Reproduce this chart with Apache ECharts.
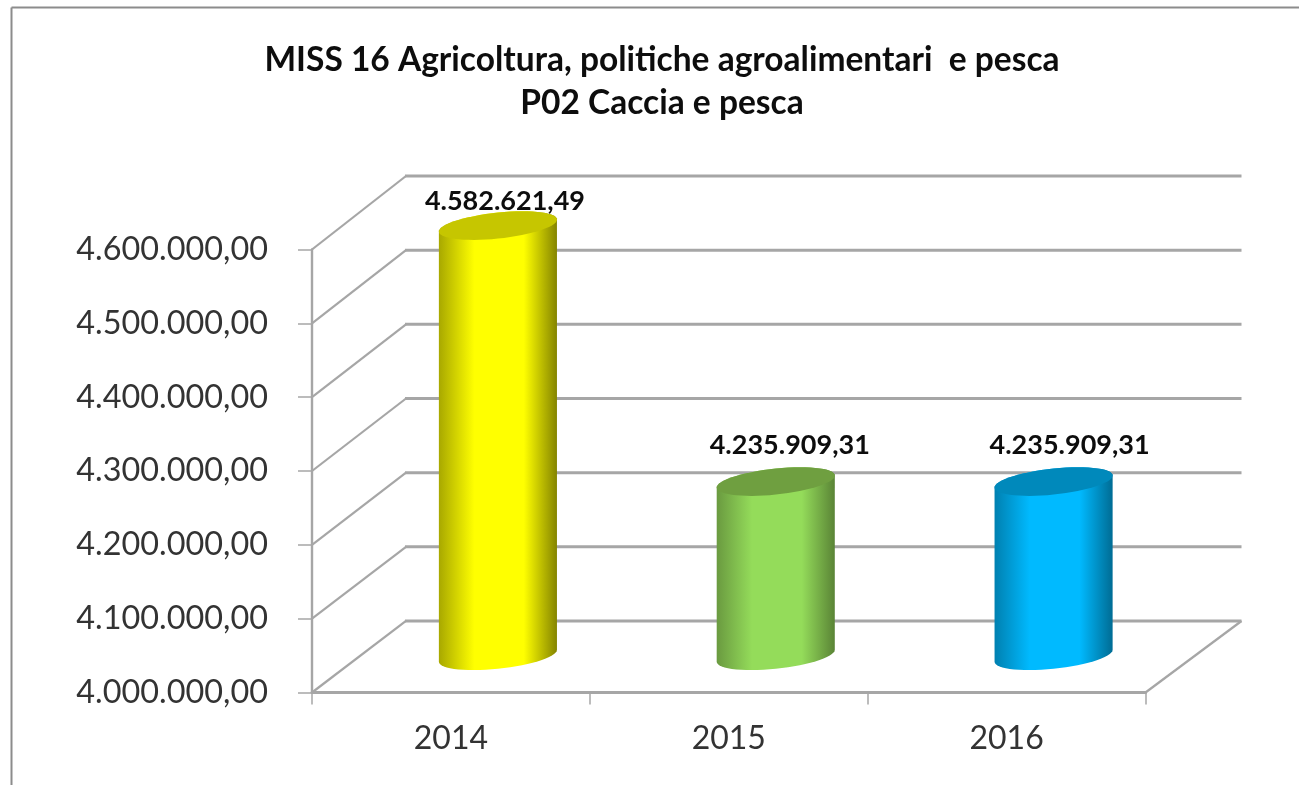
<!DOCTYPE html>
<html><head><meta charset="utf-8">
<style>html,body{margin:0;padding:0;background:#fff}#c{width:1299px;height:785px}</style>
<script src="https://cdn.jsdelivr.net/npm/echarts@6/dist/echarts.min.js"></script>
</head><body><div id="c"></div>
<script>
const titleLines = ['MISS 16 Agricoltura, politiche agroalimentari  e pesca', 'P02 Caccia e pesca'];
const years = ['2014', '2015', '2016'];
const values = [4582621.49, 4235909.31, 4235909.31];
const axisTicks = [4000000, 4100000, 4200000, 4300000, 4400000, 4500000, 4600000];
const bodyBright = ['#ffff00', '#94dc5a', '#00baff'];
const bodyLeft = ['#a8a800', '#6a9a40', '#0080b0'];
const bodyRight = ['#848400', '#5a8436', '#006c94'];
const capColors = ['#c6c600', '#6f9f40', '#0089bb'];
const labelShift = [[7, -24], [14, -36], [16, -36]];

const FONT = 'Lato';
const GRID = '#a6a6a6';
const DEPTH_X = 94, DEPTH_Y = -73.5, WALL_STRETCH = 1.0045, WALL_EXTRA = 2;
const fmt = v => v.toLocaleString('de-DE', {minimumFractionDigits: 2, maximumFractionDigits: 2});

function ellipse(cx, cy, a, b, s, from, to, n) {
  const pts = [];
  for (let i = 0; i <= n; i++) {
    const t = from + (to - from) * i / n;
    pts.push([cx + a * Math.cos(t), cy + b * Math.sin(t) - s * Math.cos(t)]);
  }
  return pts;
}

function renderWall(params, api) {
  const v = api.value(0);
  const xs = api.coord([0, v]);
  const topY = api.coord([0, axisTicks[axisTicks.length - 1]])[1];
  const band = api.size([1, 0])[0];
  const left = xs[0] - band / 2, y = xs[1];
  const right = left + band * years.length;
  const backY = topY + DEPTH_Y + (y - topY) * WALL_STRETCH;
  const children = [
    {type: 'line', shape: {x1: left, y1: y, x2: left + DEPTH_X, y2: backY},
     style: {stroke: GRID, lineWidth: 2.2}},
    {type: 'line', shape: {x1: left + DEPTH_X - 1, y1: backY, x2: right + DEPTH_X + WALL_EXTRA, y2: backY},
     style: {stroke: GRID, lineWidth: 3}}
  ];
  if (v === axisTicks[0]) children.push({
    type: 'line',
    shape: {x1: right, y1: y, x2: right + DEPTH_X + WALL_EXTRA, y2: backY},
    style: {stroke: GRID, lineWidth: 2.2}
  });
  return {type: 'group', children};
}

function renderCylinder(params, api) {
  const i = api.value(0), v = api.value(1);
  const top = api.coord([i, v]), base = api.coord([i, axisTicks[0]]);
  const band = api.size([1, 0])[0];
  const cx = top[0] + DEPTH_X / 2;
  const a = band * 0.2125, b = 13, s = 6;
  const topY = top[1] + DEPTH_Y / 2, baseY = base[1] + DEPTH_Y / 2;
  const body = ellipse(cx, baseY, a, b, s, Math.PI, 0, 30)
    .concat(ellipse(cx, topY, a, b, s, 0, -Math.PI, 30));
  const grad = {type: 'linear', x: 0, y: 0, x2: 1, y2: 0, colorStops: [
    {offset: 0, color: bodyLeft[i]},
    {offset: 0.3, color: bodyBright[i]},
    {offset: 0.72, color: bodyBright[i]},
    {offset: 1, color: bodyRight[i]}
  ]};
  return {type: 'group', children: [
    {type: 'polygon', shape: {points: body}, style: {fill: grad}},
    {type: 'polygon', shape: {points: ellipse(cx, topY, a, b, s, 0, Math.PI * 2, 60)}, style: {fill: capColors[i]}},
    {type: 'text', x: cx + labelShift[i][0], y: topY + labelShift[i][1], style: {
      text: fmt(v), fontFamily: FONT, fontWeight: 'bold', fontSize: 27, fill: '#0d0d0d',
      align: 'center', verticalAlign: 'middle'
    }}
  ]};
}

const chart = echarts.init(document.getElementById('c'), null, {renderer: 'canvas'});
chart.setOption({
  animation: false,
  backgroundColor: '#fff',
  title: {
    text: titleLines.join('\n'), left: 657, top: 34, textAlign: 'center',
    textStyle: {fontFamily: FONT, fontWeight: 'bold', fontSize: 33.5, lineHeight: 43, color: '#0d0d0d'}
  },
  graphic: [
    {type: 'line', shape: {x1: 11.5, y1: 7.5, x2: 1299, y2: 7.5}, style: {stroke: '#8c8c8c', lineWidth: 2}, silent: true},
    {type: 'line', shape: {x1: 11.5, y1: 7.5, x2: 11.5, y2: 785}, style: {stroke: '#8c8c8c', lineWidth: 2}, silent: true}
  ],
  grid: {left: 312, top: 249.5, width: 833.5, height: 443},
  xAxis: {
    type: 'category', data: years, boundaryGap: true,
    axisLine: {lineStyle: {color: GRID, width: 3}},
    axisTick: {show: true, alignWithLabel: false, length: 12, lineStyle: {color: GRID, width: 1.5}},
    axisLabel: {fontFamily: FONT, fontSize: 32, color: '#333', margin: 30}
  },
  yAxis: {
    type: 'value', min: axisTicks[0], max: axisTicks[axisTicks.length - 1], interval: 100000,
    splitLine: {show: false},
    axisLine: {show: true, lineStyle: {color: GRID, width: 2.4}},
    axisTick: {show: true, length: 14, lineStyle: {color: GRID, width: 1.5}},
    axisLabel: {fontFamily: FONT, fontSize: 32.4, color: '#333', margin: 44, padding: [3, 0, 0, 0], formatter: v => fmt(v)}
  },
  series: [
    {type: 'custom', z: 1, silent: true, data: axisTicks.map(v => [v]),
     encode: {y: 0}, renderItem: renderWall},
    {type: 'custom', z: 3, silent: true, data: values.map((v, i) => [i, v]),
     encode: {x: 0, y: 1}, renderItem: renderCylinder}
  ]
});
</script></body></html>
